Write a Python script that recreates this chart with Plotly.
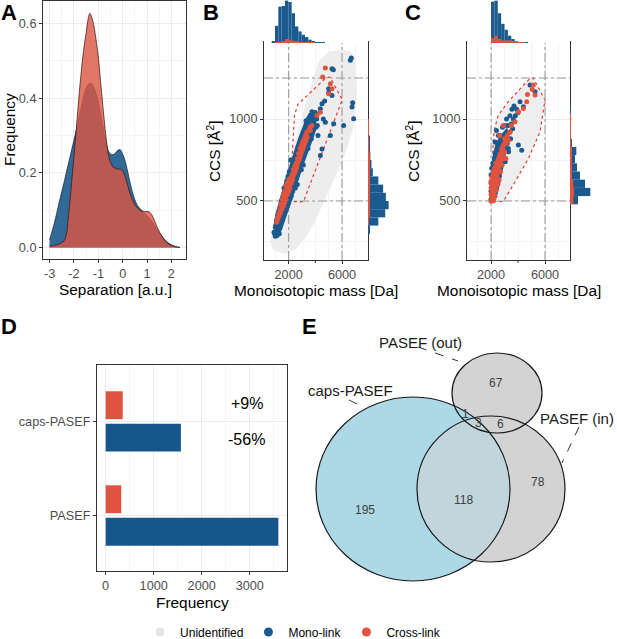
import plotly.graph_objects as go

W, H = 617, 639
FONT = "Liberation Sans, Arial, Helvetica, sans-serif"
BLUE = "#1B5A8E"
RED = "#E0533E"
GRAY_PT = "#E6E6E6"

# ---------------- data ----------------
# Panel A: density of separation
sep_grid = [-3.0, -2.8, -2.6, -2.4, -2.3, -2.2, -2.1, -2.0, -1.9, -1.8, -1.7, -1.6, -1.5, -1.4, -1.35,
            -1.3, -1.2, -1.1, -1.0, -0.9, -0.8, -0.7, -0.6, -0.5, -0.4, -0.3, -0.2, -0.1, 0.0, 0.1,
            0.2, 0.3, 0.4, 0.5, 0.6, 0.7, 0.8, 0.9, 1.0, 1.1, 1.2, 1.3, 1.4, 1.5, 1.6, 1.7, 1.8, 1.9,
            2.0, 2.1, 2.2, 2.35]
sep_mono = [0.02, 0.066, 0.122, 0.176, 0.204, 0.232, 0.26, 0.287, 0.315, 0.345, 0.375, 0.405, 0.427,
            0.437, 0.44, 0.44, 0.432, 0.415, 0.39, 0.355, 0.32, 0.285, 0.26, 0.25, 0.248, 0.253, 0.26,
            0.262, 0.25, 0.232, 0.205, 0.175, 0.148, 0.128, 0.113, 0.105, 0.098, 0.091, 0.085, 0.078,
            0.07, 0.06, 0.05, 0.04, 0.031, 0.023, 0.016, 0.011, 0.007, 0.004, 0.002, 0.0]
sep_cross = [0.003, 0.005, 0.009, 0.018, 0.038, 0.1, 0.17, 0.245, 0.32, 0.4, 0.47, 0.53, 0.575, 0.618,
             0.627, 0.622, 0.6, 0.56, 0.51, 0.44, 0.37, 0.305, 0.255, 0.228, 0.216, 0.212, 0.21, 0.21,
             0.205, 0.19, 0.168, 0.145, 0.128, 0.115, 0.106, 0.1, 0.097, 0.096, 0.096, 0.095, 0.087,
             0.073, 0.057, 0.043, 0.031, 0.021, 0.014, 0.009, 0.005, 0.003, 0.001, 0.0]

# Panel B: unidentified cloud outline (mass, CCS)
b_unid_mass = [750, 1125, 1625, 2250, 2750, 3250, 3750, 4250, 5000, 6000, 6625, 7000, 7125, 6900, 6300,
               5500, 4700, 4000, 3300, 2600, 1750, 875, 625]
b_unid_ccs = [331, 453, 616, 800, 943, 1085, 1228, 1351, 1412, 1422, 1412, 1371, 1167, 960, 800,
              650, 500, 380, 280, 210, 175, 200, 249]
# dense cores of identified precursors (outline of the dense point clouds)
b_mono_core_mass = [850, 1000, 1250, 1500, 1750, 2000, 2250, 2500, 2750, 3000, 3250, 3500, 3750, 4000,
                    4100, 3800, 3500, 3250, 3000, 2750, 2500, 2250, 2000, 1750, 1500, 1250, 1050]
b_mono_core_ccs = [345, 420, 490, 570, 635, 700, 770, 830, 890, 945, 995, 1035, 1045, 1020,
                   943, 870, 810, 750, 690, 625, 565, 505, 445, 385, 325, 280, 285]
b_cross_core_mass = [1150, 1500, 2000, 2500, 3000, 3450, 3450, 3000, 2500, 2000, 1500, 1200]
b_cross_core_ccs = [405, 510, 625, 740, 850, 930, 870, 760, 655, 550, 440, 370]
c_mono_core_mass = [2000, 2000, 2150, 2350, 2600, 2900, 3200, 3300, 3100, 2900, 2650, 2400, 2250]
c_mono_core_ccs = [500, 700, 790, 850, 890, 920, 950, 890, 790, 700, 600, 520, 500]
c_cross_core_mass = [2000, 2000, 2200, 2500, 2800, 3000, 3050, 2800, 2500, 2300, 2150]
c_cross_core_ccs = [500, 650, 720, 790, 850, 880, 820, 720, 620, 540, 500]
# selection polygons (mass, CCS)
b_poly_mass = [2070, 2440, 2700, 4790, 5100, 6020, 3110, 2070]
b_poly_ccs = [496, 1027, 1090, 1251, 1255, 1118, 496, 496]
c_poly_mass = [2000, 2170, 2296, 2543, 3284, 4889, 5136, 6000, 5630, 4766, 3778, 2914, 2000]
c_poly_ccs = [494, 882, 953, 1024, 1106, 1249, 1249, 1116, 922, 759, 616, 498, 494]
ref_mass = [2000, 6000]
ref_ccs = [500, 1250]

b_mono = [
    (950, 300), (1000, 285), (1050, 320), (1125, 290), (1000, 341), (1200, 331), (1250, 355), (1375, 350),
    (1200, 371), (900, 310), (1300, 400), (1350, 430), (1400, 380), (1400, 460), (1450, 500), (1500, 410),
    (1500, 450), (1550, 490), (1600, 430), (1600, 530), (1650, 470), (1700, 450), (1700, 510), (1750, 550),
    (1800, 480), (1800, 590), (1850, 520), (1850, 620), (1900, 470), (1900, 560), (1950, 650), (2000, 490),
    (2000, 540), (2000, 600), (2050, 680), (2100, 510), (2100, 640), (2150, 580), (2200, 530), (2200, 700),
    (2250, 620), (2300, 560), (2300, 670), (2350, 740), (2400, 590), (2400, 700), (2450, 650), (2500, 620),
    (2500, 760), (2550, 700), (2600, 640), (2600, 790), (2650, 740), (2700, 680), (2700, 830), (2750, 780),
    (2800, 700), (2850, 850), (2900, 740), (2900, 800), (2950, 880), (2950, 690), (3000, 760), (3000, 830),
    (3050, 900), (3100, 790), (3100, 720), (3150, 860), (3200, 820), (3200, 930), (3250, 890), (3300, 850),
    (3350, 960), (3400, 880), (3450, 930), (3450, 820), (3500, 900), (3500, 1000), (3550, 960), (3600, 920),
    (3650, 1010), (3700, 970), (3750, 1000), (3800, 950), (3850, 1030), (3900, 990), (4000, 1040),
    (4100, 1000), (4050, 950), (2500, 580), (1100, 380), (1300, 300), (1650, 580), (2150, 750), (2650, 600),
    (3300, 990), (3700, 880), (4150, 960),
    (4375, 1063), (4500, 1093), (4700, 1110), (5000, 1185), (5000, 1160), (5250, 1144), (5250, 1307),
    (5350, 1300), (6625, 1358), (6700, 1372), (4750, 981), (5375, 971), (6125, 960), (6750, 1073),
    (6800, 1100), (6875, 1001), (5125, 899), (4500, 817), (4375, 777), (4600, 1000), (3750, 1045),
    (4200, 900),
]
b_cross = [
    (1100, 370), (1150, 395), (1200, 390), (1250, 420), (1300, 410), (1350, 445), (1400, 430), (1400, 480),
    (1450, 460), (1500, 450), (1500, 510), (1550, 480), (1600, 470), (1600, 540), (1650, 510), (1700, 490),
    (1700, 560), (1750, 530), (1800, 510), (1800, 590), (1850, 560), (1900, 540), (1900, 610), (1950, 580),
    (2000, 560), (2000, 630), (2050, 600), (2100, 580), (2150, 640), (2200, 610), (2250, 660), (2300, 630),
    (2350, 690), (2400, 660), (2450, 710), (2500, 680), (2550, 730), (2600, 700), (2650, 760), (2700, 740),
    (2750, 790), (2800, 760), (2850, 820), (2900, 790), (2950, 840), (3000, 810), (3050, 860), (3100, 830),
    (3150, 880), (3200, 850), (3250, 900), (3300, 870), (3350, 920), (3400, 890), (3500, 930), (3600, 950),
    (3625, 930), (3750, 961), (4125, 1022), (4375, 1042), (5000, 1154), (5250, 1185), (5125, 1215),
    (4550, 1256), (4750, 1311),
]
c_mono = [
    (2000, 510), (2000, 560), (2000, 610), (2000, 660), (2050, 530), (2050, 700), (2100, 510), (2100, 580),
    (2100, 640), (2150, 730), (2200, 520), (2200, 600), (2200, 680), (2250, 760), (2300, 550), (2300, 640),
    (2300, 720), (2350, 800), (2400, 580), (2400, 680), (2400, 760), (2450, 850), (2500, 610), (2500, 720),
    (2500, 800), (2550, 900), (2600, 650), (2600, 760), (2650, 840), (2700, 700), (2700, 900), (2750, 800),
    (2800, 720), (2800, 860), (2850, 950), (2900, 780), (2950, 880), (3000, 820), (3000, 960), (3050, 740),
    (3100, 900), (3150, 1000), (3200, 850), (3250, 960), (3300, 800), (3350, 920), (3400, 1020), (3450, 880),
    (3500, 970), (3550, 1060), (3600, 940), (3650, 1000), (3700, 1080), (3800, 1020), (3900, 1060),
    (4000, 1040), (4025, 841), (4272, 810), (4149, 1106), (4396, 1075), (4889, 1208), (5260, 1167),
    (3284, 820), (2300, 860), (2400, 930),
]
c_cross = [
    (2000, 500), (2000, 540), (2000, 580), (2000, 620), (2050, 520), (2050, 600), (2050, 650), (2100, 500),
    (2100, 560), (2100, 620), (2150, 540), (2150, 680), (2200, 510), (2200, 580), (2200, 640), (2250, 560),
    (2250, 700), (2300, 530), (2300, 600), (2300, 660), (2350, 620), (2350, 730), (2400, 570), (2400, 680),
    (2450, 640), (2500, 600), (2500, 720), (2550, 680), (2600, 630), (2600, 760), (2650, 720), (2700, 680),
    (2700, 790), (2750, 750), (2800, 720), (2800, 820), (2850, 780), (2900, 840), (2950, 760), (3000, 800),
    (3000, 880), (3100, 850), (3200, 900), (3300, 870), (3400, 920), (3408, 922), (3500, 960), (3778, 984),
    (4025, 1045), (4396, 1065), (4643, 1106), (4700, 1150), (5050, 1180), (5136, 1208), (5260, 1147),
    (3100, 760), (2650, 900), (2900, 960),
]

# marginal histograms
b_mass_bins = [850, 1100, 1350, 1600, 1850, 2100, 2350, 2600, 2850, 3100, 3350, 3600, 3850, 4100, 4350, 4600]
b_mass_mono = [5, 52, 110, 112, 128, 124, 90, 50, 35, 25, 18, 10, 4, 2, 1, 1]
b_mass_cross = [0, 1, 2, 6, 12, 10, 7, 5, 3, 3, 2, 2, 1, 0, 0, 0]
b_ccs_bins = [325, 375, 425, 475, 525, 575, 625, 675, 725, 775, 825, 875, 925, 975]
b_ccs_mono = [4, 30, 50, 60, 52, 44, 30, 14, 10, 7, 4, 3, 2, 1]
b_ccs_cross = [0, 1, 4, 6, 6, 6, 6, 5, 3, 3, 2, 2, 2, 1]
c_mass_bins = [2125, 2375, 2625, 2875, 3125, 3375, 3625, 3875, 4125, 4375, 4625]
c_mass_mono = [125, 128, 90, 58, 40, 22, 12, 6, 3, 2, 1]
c_mass_cross = [15, 22, 12, 8, 8, 8, 4, 4, 2, 1, 0]
c_ccs_bins = [505, 555, 605, 655, 705, 755, 805, 855, 905, 955, 1005, 1055]
c_ccs_mono = [24, 61, 45, 30, 21, 15, 19, 6, 3, 3, 2, 1]
c_ccs_cross = [10, 12, 10, 6, 6, 6, 5, 3, 2, 1, 1, 0]

# Panel D
methods = ["PASEF", "caps-PASEF"]
mono_counts = [3595, 1566]
cross_counts = [325, 356]
change_cross = "+9%"
change_mono = "-56%"

# Panel E (Venn)
venn_sets = ["caps-PASEF", "PASEF (in)", "PASEF (out)"]
venn_counts = ["195", "118", "78", "67", "1", "3", "6"]

# ---------------- helpers ----------------
def px(x):
    return x / W

def py(y):
    return 1 - y / H

TICKFONT = dict(size=12.7, color="#4D4D4D", family=FONT)


def frame_axis(**kw):
    d = dict(showline=True, mirror=True, linecolor="#333333", linewidth=1,
             ticks="outside", ticklen=3, tickwidth=1, tickcolor="#333333",
             showgrid=True, gridcolor="#EBEBEB", gridwidth=1, zeroline=False,
             tickfont=TICKFONT, automargin=False)
    d.update(kw)
    return d


def minor(vals):
    return dict(tickmode="array", tickvals=vals, showgrid=True, gridcolor="#F4F4F4",
                gridwidth=0.6, ticks="")


def hidden(**kw):
    d = dict(visible=False, showgrid=False, zeroline=False, fixedrange=True, automargin=False)
    d.update(kw)
    return d


fig = go.Figure()

# ---------- Panel A ----------
fig.add_trace(go.Scatter(x=sep_grid, y=sep_mono, mode="lines", fill="tozeroy",
                         line=dict(color="rgba(20,30,50,0.9)", width=0.8, shape="spline", smoothing=0.6),
                         fillcolor="rgba(27,90,140,0.9)", xaxis="x", yaxis="y", showlegend=False,
                         hoverinfo="skip"))
fig.add_trace(go.Scatter(x=sep_grid, y=sep_cross, mode="lines", fill="tozeroy",
                         line=dict(color="rgba(50,20,20,0.9)", width=0.8, shape="spline", smoothing=0.6),
                         fillcolor="rgba(220,85,65,0.8)", xaxis="x", yaxis="y", showlegend=False,
                         hoverinfo="skip"))


# ---------- Panels B and C scatter ----------
def poly(xa, ya, xs, ys, color):
    fig.add_trace(go.Scatter(x=xs, y=ys, mode="lines", fill="toself", fillcolor=color,
                             line=dict(width=0), xaxis=xa, yaxis=ya, showlegend=False, hoverinfo="skip"))


def scatter_panel(xa, ya, xr, yr, poly_mass, poly_ccs, poly_fill, mono, cross, mono_core, cross_core,
                  cloud=None):
    if cloud is not None:
        poly(xa, ya, cloud[0], cloud[1], "#EDEDED")
    if poly_fill:
        poly(xa, ya, poly_mass, poly_ccs, "#EEEEEE")
    for v in ref_mass:
        fig.add_trace(go.Scatter(x=[v, v], y=list(yr), mode="lines",
                                 line=dict(color="#9A9A9A", width=1.1, dash="dashdot"),
                                 xaxis=xa, yaxis=ya, showlegend=False, hoverinfo="skip"))
    for v in ref_ccs:
        fig.add_trace(go.Scatter(x=list(xr), y=[v, v], mode="lines",
                                 line=dict(color="#9A9A9A", width=1.1, dash="dashdot"),
                                 xaxis=xa, yaxis=ya, showlegend=False, hoverinfo="skip"))
    fig.add_trace(go.Scatter(x=poly_mass, y=poly_ccs, mode="lines",
                             line=dict(color="#E8393A", width=1.2, dash="dot"),
                             xaxis=xa, yaxis=ya, showlegend=False, hoverinfo="skip"))
    poly(xa, ya, mono_core[0], mono_core[1], BLUE)
    mx, my = zip(*mono)
    fig.add_trace(go.Scatter(x=mx, y=my, mode="markers", marker=dict(color=BLUE, size=5),
                             xaxis=xa, yaxis=ya, showlegend=False, hoverinfo="skip"))
    poly(xa, ya, cross_core[0], cross_core[1], RED)
    cx, cy = zip(*cross)
    fig.add_trace(go.Scatter(x=cx, y=cy, mode="markers", marker=dict(color=RED, size=5),
                             xaxis=xa, yaxis=ya, showlegend=False, hoverinfo="skip"))


B_XR = (150, 7950)
C_XR = (220, 7850)
YR = (140, 1470)
scatter_panel("x2", "y2", B_XR, YR, b_poly_mass, b_poly_ccs, False, b_mono, b_cross,
              (b_mono_core_mass, b_mono_core_ccs), (b_cross_core_mass, b_cross_core_ccs),
              cloud=(b_unid_mass, b_unid_ccs))
scatter_panel("x5", "y5", C_XR, YR, c_poly_mass, c_poly_ccs, True, c_mono, c_cross,
              (c_mono_core_mass, c_mono_core_ccs), (c_cross_core_mass, c_cross_core_ccs))


# ---------- marginal histograms ----------
def top_hist(xa, ya, bins, mono, cross, bw=250):
    for vals, col in ((mono, BLUE), (cross, RED)):
        fig.add_trace(go.Bar(x=bins, y=vals, width=bw, offset=-bw / 2, marker=dict(color=col, line=dict(width=0)),
                             xaxis=xa, yaxis=ya, showlegend=False, hoverinfo="skip"))


def side_hist(xa, ya, bins, mono, cross, bw=50):
    for vals, col in ((mono, BLUE), (cross, RED)):
        fig.add_trace(go.Bar(y=bins, x=vals, orientation="h", width=bw, offset=-bw / 2,
                             marker=dict(color=col, line=dict(width=0)),
                             xaxis=xa, yaxis=ya, showlegend=False, hoverinfo="skip"))


top_hist("x3", "y3", b_mass_bins, b_mass_mono, b_mass_cross)
side_hist("x4", "y4", b_ccs_bins, b_ccs_mono, b_ccs_cross)
top_hist("x6", "y6", c_mass_bins, c_mass_mono, c_mass_cross)
side_hist("x7", "y7", c_ccs_bins, c_ccs_mono, c_ccs_cross)

# ---------- Panel D ----------
fig.add_trace(go.Bar(y=methods, x=mono_counts, orientation="h", marker=dict(color="#16568A", line=dict(width=0)),
                     xaxis="x8", yaxis="y8", showlegend=False, hoverinfo="skip"))
fig.add_trace(go.Bar(y=methods, x=cross_counts, orientation="h", marker=dict(color="#DE5440", line=dict(width=0)),
                     xaxis="x8", yaxis="y8", showlegend=False, hoverinfo="skip"))

# ---------- legend dummies ----------
for name, col in (("Unidentified", GRAY_PT), ("Mono-link", BLUE), ("Cross-link", RED)):
    fig.add_trace(go.Scatter(x=[None], y=[None], mode="markers", name=name,
                             marker=dict(color=col, size=9), xaxis="x9", yaxis="y9"))

# ---------- layout ----------
layout = dict(
    width=W, height=H, margin=dict(l=0, r=0, t=0, b=0, pad=0, autoexpand=False),
    paper_bgcolor="white", plot_bgcolor="white",
    font=dict(family=FONT, color="black"),
    barmode="group", bargap=0.31, bargroupgap=0.14,
    showlegend=True,
    legend=dict(orientation="h", x=0.227, xanchor="left", y=py(632), yanchor="middle",
                font=dict(size=12, family=FONT, color="black"), bgcolor="rgba(0,0,0,0)",
                itemsizing="trace", traceorder="normal"),
)

layout["xaxis"] = frame_axis(domain=[px(43), px(186)], range=[-3.27, 2.6], anchor="y",
                             tickvals=[-3, -2, -1, 0, 1, 2], ticktext=["-3", "-2", "-1", "0", "1", "2"],
                             minor=minor([-2.5, -1.5, -0.5, 0.5, 1.5]))
layout["yaxis"] = frame_axis(domain=[py(259), py(1)], range=[-0.031, 0.66], anchor="x",
                             tickvals=[0, 0.2, 0.4, 0.6], ticktext=["0.0", "0.2", "0.4", "0.6"],
                             minor=minor([0.1, 0.3, 0.5]))

for xa, ya, dom, xr in (("xaxis2", "yaxis2", (264, 368), B_XR), ("xaxis5", "yaxis5", (467, 570), C_XR)):
    n = xa[5:]
    layout[xa] = frame_axis(domain=[px(dom[0]), px(dom[1])], range=list(xr), anchor="y" + n,
                            tickvals=[2000, 6000], ticktext=["2000", "6000"],
                            minor=minor([1000, 3000, 4000, 5000, 7000]))
    layout[ya] = frame_axis(domain=[py(260), py(42)], range=list(YR), anchor="x" + n,
                            tickvals=[500, 1000], ticktext=["500", "1000"],
                            minor=minor([250, 750, 1250]))

layout["xaxis3"] = hidden(domain=[px(264), px(368)], range=list(B_XR), anchor="y3")
layout["yaxis3"] = hidden(domain=[py(43), 1], range=[0, 130], anchor="x3")
layout["xaxis4"] = hidden(domain=[px(368), px(390)], range=[0, 64], anchor="y4")
layout["yaxis4"] = hidden(domain=[py(260), py(42)], range=list(YR), anchor="x4")
layout["xaxis6"] = hidden(domain=[px(467), px(570)], range=list(C_XR), anchor="y6")
layout["yaxis6"] = hidden(domain=[py(43), 1], range=[0, 130], anchor="x6")
layout["xaxis7"] = hidden(domain=[px(570), px(592)], range=[0, 66], anchor="y7")
layout["yaxis7"] = hidden(domain=[py(260), py(42)], range=list(YR), anchor="x7")

layout["xaxis8"] = frame_axis(domain=[px(97), px(287)], range=[-180, 3775], anchor="y8",
                              tickvals=[0, 1000, 2000, 3000], ticktext=["0", "1000", "2000", "3000"],
                              minor=minor([500, 1500, 2500, 3500]))
layout["yaxis8"] = frame_axis(domain=[py(571), py(365)], type="category", range=[-0.59, 1.6],
                              anchor="x8", categoryorder="array", categoryarray=methods)

layout["xaxis9"] = hidden(domain=[px(300), 1], range=[300, 617], anchor="y9")
layout["yaxis9"] = hidden(domain=[py(600), py(330)], range=[600, 330], anchor="x9")

fig.update_layout(**layout)

# unlabeled tick mark at 4000 Da under panels B and C
for xa in ("x2", "x5"):
    fig.add_shape(type="line", xref=xa, yref="paper", x0=4000, x1=4000, y0=py(260), y1=py(263),
                  line=dict(color="#333333", width=1), layer="above")

# ---------- Venn shapes ----------
# geometry (centre x, centre y, radius x, radius y) in panel-E axis units
venn_geom = {
    "caps-PASEF": (413, 489, 97, 92),
    "PASEF (in)": (491, 489, 74, 73),
    "PASEF (out)": (497, 393, 45, 40),
}
venn_fill = {"caps-PASEF": "#ADD8E6", "PASEF (in)": "#D3D3D3", "PASEF (out)": "#D3D3D3"}


def ellipse(name, fill, line):
    cx, cy, rx, ry = venn_geom[name]
    fig.add_shape(type="circle", xref="x9", yref="y9", x0=cx - rx, x1=cx + rx, y0=cy - ry, y1=cy + ry,
                  fillcolor=fill, line=line, layer="above")


ellipse("PASEF (out)", venn_fill["PASEF (out)"], dict(width=0))
ellipse("caps-PASEF", venn_fill["caps-PASEF"], dict(width=0))
ellipse("PASEF (in)", venn_fill["PASEF (in)"], dict(width=0))
ellipse("caps-PASEF", "rgba(173,216,230,0.5)", dict(width=0))
for s in venn_sets:
    ellipse(s, "rgba(0,0,0,0)", dict(color="#1A1A1A", width=1.2))

# leader lines
leaders = [((418, 347), (458, 361)), ((349, 400), (359, 405)), ((579, 427), (562, 463))]
for (x0, y0), (x1, y1) in leaders:
    fig.add_shape(type="line", xref="x9", yref="y9", x0=x0, y0=y0, x1=x1, y1=y1,
                  line=dict(color="#333333", width=1, dash="dash"), layer="above")

set_label_pos = {"caps-PASEF": (350, 390), "PASEF (in)": (577, 418), "PASEF (out)": (420, 342)}
for s in venn_sets:
    x, y = set_label_pos[s]
    fig.add_annotation(x=x, y=y, xref="x9", yref="y9", text=s, showarrow=False,
                       font=dict(size=15, family=FONT, color="#1A1A1A"), xanchor="center", yanchor="middle")

count_pos = [(365, 510), (463, 500), (538, 482), (496, 383), (465, 414), (478, 423), (500, 424)]
for t, (x, y) in zip(venn_counts, count_pos):
    fig.add_annotation(x=x, y=y, xref="x9", yref="y9", text=t, showarrow=False,
                       font=dict(size=12, family=FONT, color="#404040"), xanchor="center", yanchor="middle")

# ---------- D annotations ----------
fig.add_annotation(x=2940, y=1.19, xref="x8", yref="y8", text=change_cross, showarrow=False,
                   font=dict(size=16, family=FONT, color="black"))
fig.add_annotation(x=2940, y=0.805, xref="x8", yref="y8", text=change_mono, showarrow=False,
                   font=dict(size=16, family=FONT, color="black"))

# ---------- axis titles & panel letters ----------
def ptext(x, y, text, size=15.4, angle=0, bold=False, color="black"):
    fig.add_annotation(x=px(x), y=py(y), xref="paper", yref="paper", text=("<b>%s</b>" % text) if bold else text,
                       showarrow=False, textangle=angle, xanchor="center", yanchor="middle",
                       font=dict(size=size, family=FONT, color=color))


ptext(9, 130, "Frequency", angle=-90)
ptext(115, 289, "Separation [a.u.]")
ptext(214, 151, "CCS [Å<sup>2</sup>]", angle=-90)
ptext(316, 290, "Monoisotopic mass [Da]")
ptext(413, 151, "CCS [Å<sup>2</sup>]", angle=-90)
ptext(518.5, 290, "Monoisotopic mass [Da]")
ptext(192, 602, "Frequency")

for letter, (x, y) in (("A", (9, 13)), ("B", (211, 13)), ("C", (413, 13)), ("D", (9, 326)), ("E", (309, 326))):
    ptext(x, y, letter, size=22, bold=True)

fig.write_html("out.html", config={"displayModeBar": False},
               post_script="document.body.style.margin='0';document.body.style.padding='0';"
                           "document.documentElement.style.overflow='hidden';")
